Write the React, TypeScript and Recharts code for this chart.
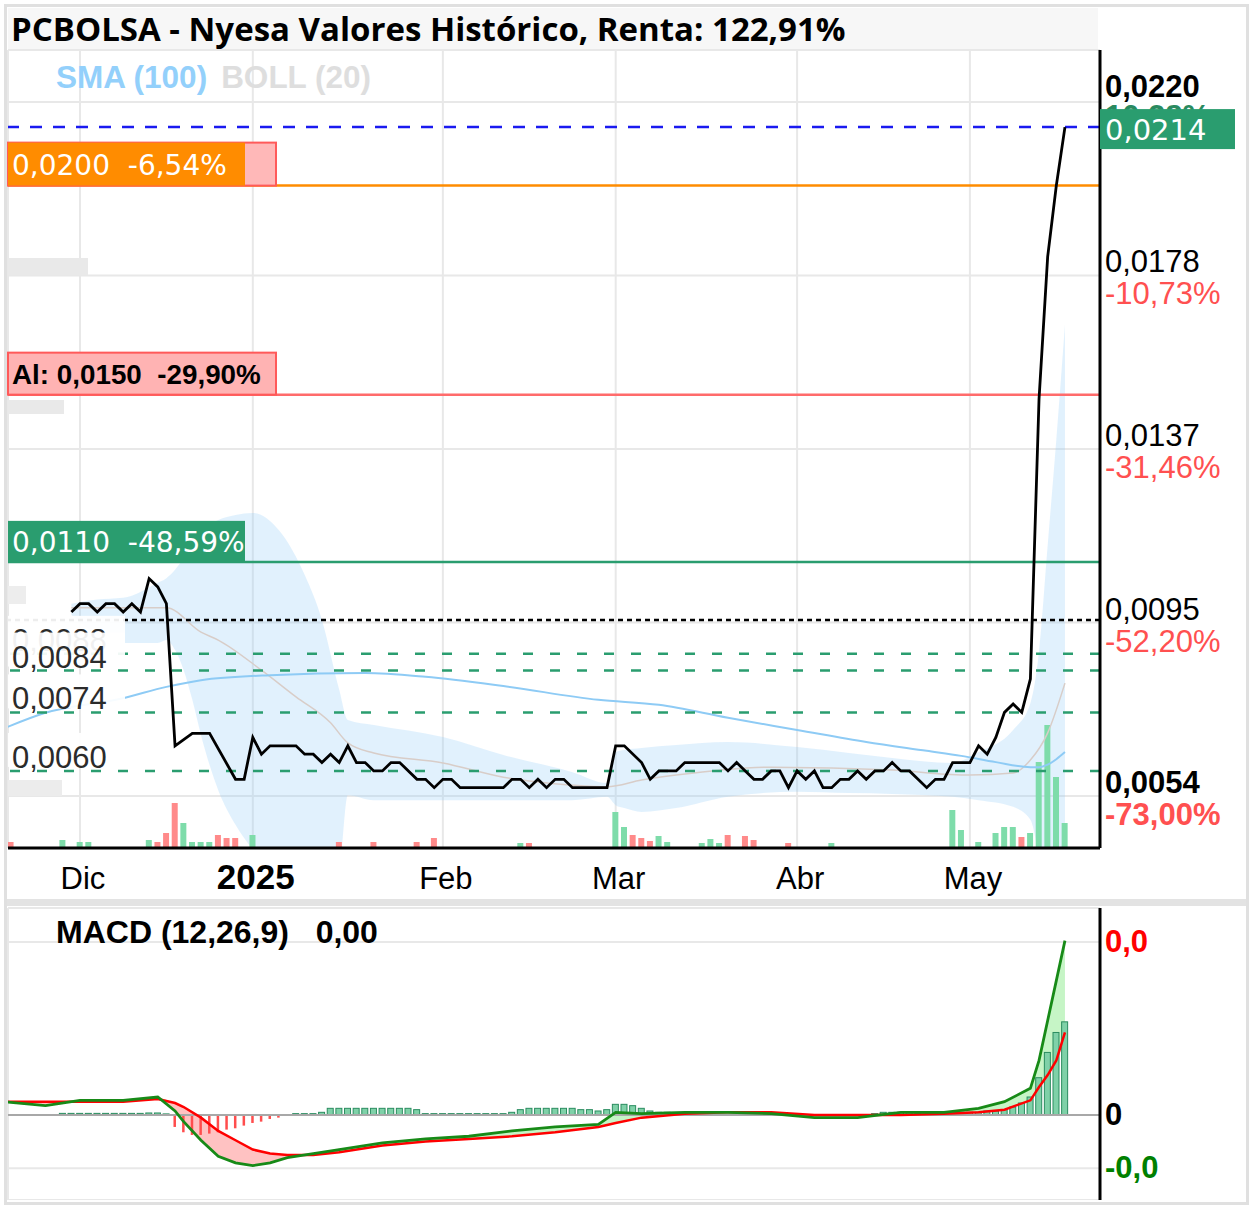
import React from "react";
import {
  ComposedChart, Line, Area, Bar, Cell, XAxis, YAxis, CartesianGrid, ReferenceLine,
} from "recharts";

// x = trading-day index (0 = first session of December 2024)
const monthDays = [0, 20, 42, 62, 83, 103];
const monthLabels = ["Dic", "2025", "Feb", "Mar", "Abr", "May"];

const priceTicks = [0.022, 0.01785, 0.0137, 0.00955, 0.0054];
const priceTickLabels = ["0,0220", "0,0178", "0,0137", "0,0095", "0,0054"];
const priceTickPct = ["10,28%", "-10,73%", "-31,46%", "-52,20%", "-73,00%"];

const macdTicks = [0.0013, 0, -0.0004];
const macdTickLabels = ["0,0", "0", "-0,0"];
const macdTickColors = ["#ff0000", "#000000", "#008000"];

// day, close
const price: [number, number][] = [
  [-1, 0.0098], [0, 0.01], [1, 0.01], [2, 0.0098], [3, 0.01], [4, 0.01], [5, 0.0098], [6, 0.01],
  [7, 0.0098], [8, 0.0106], [9, 0.0104], [10, 0.01], [11, 0.0066], [13, 0.0069], [15, 0.0069],
  [18, 0.0058], [19, 0.0058], [20, 0.0068], [21, 0.0064], [22, 0.0066], [25, 0.0066], [26, 0.0064],
  [27, 0.0064], [28, 0.0062], [29, 0.0064], [30, 0.0062], [31, 0.0066], [32, 0.0062], [33, 0.0062],
  [34, 0.006], [35, 0.006], [36, 0.0062], [37, 0.0062], [39, 0.0058], [40, 0.0058], [41, 0.0056],
  [42, 0.0058], [43, 0.0058], [44, 0.0056], [49, 0.0056], [50, 0.0058], [51, 0.0058], [52, 0.0056],
  [53, 0.0058], [54, 0.0056], [55, 0.0058], [56, 0.0058], [57, 0.0056], [61, 0.0056], [62, 0.0066],
  [63, 0.0066], [65, 0.0062], [66, 0.0058], [67, 0.006], [69, 0.006], [70, 0.0062], [74, 0.0062],
  [75, 0.006], [76, 0.0062], [77, 0.006], [78, 0.0058], [79, 0.0058], [80, 0.006], [81, 0.006],
  [82, 0.0056], [83, 0.006], [84, 0.0058], [85, 0.006], [86, 0.0056], [87, 0.0056], [88, 0.0058],
  [89, 0.0058], [90, 0.006], [91, 0.0058], [92, 0.006], [93, 0.006], [94, 0.0062], [95, 0.006],
  [96, 0.006], [98, 0.0056], [99, 0.0058], [100, 0.0058], [101, 0.0062], [103, 0.0062], [104, 0.0066],
  [105, 0.0064], [106, 0.0068], [107, 0.0074], [108, 0.0076], [109, 0.0074], [110, 0.0082],
  [111, 0.0149], [112, 0.0183], [113, 0.02], [114, 0.0214],
];

const sma100: [number, number][] = [
  [-9, 0.007], [-4, 0.00739], [5, 0.00774], [10, 0.00801], [14, 0.00817], [22, 0.00829],
  [33, 0.00834], [40, 0.00825], [49, 0.00803], [60, 0.0077], [67, 0.00758], [75, 0.00727],
  [83, 0.00698], [91, 0.00669], [98, 0.00648], [102, 0.00636], [106, 0.00621], [110, 0.00609],
  [111, 0.00609], [112, 0.00615], [113, 0.00628], [114, 0.00645],
];

const bollMid: [number, number][] = [
  [-1, 0.0099], [5, 0.0099], [10, 0.0099], [14, 0.00932], [16, 0.00913], [21, 0.00841],
  [25, 0.00777], [29, 0.00715], [31, 0.00667], [34, 0.00643], [42, 0.00619], [49, 0.00585],
  [57, 0.00566], [61, 0.00562], [65, 0.00578], [69, 0.0059], [80, 0.00609], [94, 0.00602],
  [103, 0.0059], [108, 0.00595], [110, 0.00626], [112, 0.00691], [114, 0.0081],
];

// day, lower, upper
const bollBand: [number, number, number][] = [
  [-1, 0.00973, 0.01], [2, 0.00925, 0.0101], [5, 0.00906, 0.01014], [9, 0.00906, 0.0105],
  [10, 0.00913, 0.01061], [11, 0.00889, 0.01081], [12, 0.00841, 0.01109], [13, 0.0077, 0.0114],
  [14, 0.00686, 0.01164], [15, 0.00614, 0.01188], [16, 0.00554, 0.012], [18, 0.00471, 0.01212],
  [20, 0.00411, 0.01217], [23, 0.00339, 0.01176], [26, 0.00303, 0.01069], [28, 0.00315, 0.00961],
  [30, 0.00363, 0.00794], [31, 0.00542, 0.00722], [34, 0.0053, 0.0071], [42, 0.0053, 0.00681],
  [49, 0.0053, 0.00638], [57, 0.0053, 0.00597], [61, 0.00538, 0.00571], [62, 0.00518, 0.00645],
  [63, 0.00511, 0.0065], [65, 0.00502, 0.00655], [69, 0.00511, 0.00662], [75, 0.00538, 0.00669],
  [83, 0.0055, 0.00657], [89, 0.00547, 0.00643], [94, 0.00545, 0.00631], [101, 0.00538, 0.00619],
  [104, 0.0053, 0.00645], [108, 0.00514, 0.00698], [110, 0.00483, 0.00762], [111, 0.00387, 0.00887],
  [112, 0.00219, 0.0114], [113, 0.00076, 0.01392], [114, -0.00092, 0.01667],
];

// day, volume, 1 = up day / 0 = down day
const volume: [number, number, number][] = [
  [-8, 6, 0], [-2, 8, 1], [0, 6, 1], [1, 6, 1], [8, 8, 1], [9, 6, 0], [10, 15, 0], [11, 45, 0],
  [12, 25, 1], [13, 6, 1], [14, 6, 1], [15, 6, 1], [16, 13, 0], [17, 10, 0], [18, 10, 0], [20, 13, 1],
  [30, 6, 0], [34, 6, 0], [39, 6, 0], [41, 10, 0], [51, 5, 1], [52, 5, 0], [62, 36, 1], [63, 21, 1],
  [64, 13, 0], [65, 10, 0], [66, 7, 0], [67, 12, 1], [68, 6, 1], [72, 5, 1], [73, 9, 1], [74, 5, 1],
  [75, 13, 0], [77, 12, 0], [78, 8, 0], [82, 5, 0], [87, 5, 1], [101, 38, 1], [102, 18, 1],
  [104, 6, 1], [106, 15, 1], [107, 21, 1], [108, 21, 1], [109, 11, 0], [110, 15, 1], [111, 86, 1],
  [112, 123, 1], [113, 71, 1], [114, 25, 1],
];

// day, macd, signal
const macd: [number, number, number][] = [
  [-9, 0.0001, 0.0001], [-4, 0.00007, 0.0001], [0, 0.00011, 0.0001], [5, 0.00011, 0.0001],
  [9, 0.000135, 0.00012], [11, 0.00003, 0.00009], [12, -0.00005, 0.00006], [14, -0.00019, -0.00002],
  [16, -0.00031, -0.00012], [18, -0.00036, -0.00019], [20, -0.00038, -0.00026], [22, -0.00036, -0.00029],
  [24, -0.00032, -0.0003], [27, -0.00029, -0.0003], [30, -0.00026, -0.00028], [35, -0.00021, -0.00023],
  [40, -0.00018, -0.0002], [45, -0.00016, -0.00018], [50, -0.00012, -0.00016], [55, -0.00009, -0.00013],
  [60, -0.00007, -0.00009], [62, 0.00002, -0.00006], [65, 0.00001, -0.00002], [70, 0.00002, 0.00001],
  [75, 0.00002, 0.00002], [80, 0.00001, 0.00002], [85, -0.00002, 0], [90, -0.00002, 0],
  [95, 0.00002, 0], [100, 0.00002, 0.00001], [104, 0.00005, 0.00002], [107, 0.0001, 0.00004],
  [110, 0.0002, 0.00011], [111, 0.00041, 0.00021], [112, 0.00071, 0.0003], [113, 0.00101, 0.00041],
  [114, 0.00131, 0.00062],
];

const hist: [number, number][] = [
  [-2, 0.000012], [-1, 0.000012], [0, 0.000012], [1, 0.000012], [2, 0.000012], [3, 0.000012],
  [4, 0.000012], [5, 0.000012], [6, 0.000012], [7, 0.000012], [8, 0.000015], [9, 0.000015], [10, 0.000008],
  [11, -0.00009], [12, -0.00013], [13, -0.00015], [14, -0.00015], [15, -0.00014], [16, -0.00013],
  [17, -0.00011], [18, -0.0001], [19, -0.00008], [20, -0.00006], [21, -0.00005], [22, -0.00003], [23, -0.00002],
  [25, 0.00001], [26, 0.00001], [27, 0.00001], [28, 0.00002], [29, 0.00005], [30, 0.00005], [31, 0.00005],
  [32, 0.00005], [33, 0.00005], [34, 0.00005], [35, 0.00005], [36, 0.00005], [37, 0.00005], [38, 0.00005],
  [39, 0.00004], [40, 0.00001], [41, 0.00001], [42, 0.00001], [43, 0.00001], [44, 0.00001], [45, 0.00001],
  [46, 0.00001], [47, 0.00001], [48, 0.00001], [49, 0.00001], [50, 0.00002], [51, 0.00004], [52, 0.00005],
  [53, 0.00005], [54, 0.00005], [55, 0.00005], [56, 0.00005], [57, 0.00005], [58, 0.00004], [59, 0.00004],
  [60, 0.00003], [61, 0.00004], [62, 0.00008], [63, 0.00008], [64, 0.00007], [65, 0.00005], [66, 0.00003],
  [67, 0.00002], [68, 0.00002], [69, 0.00001], [92, 0.00001], [93, 0.00002], [94, 0.00002], [95, 0.00002],
  [96, 0.00002], [97, 0.00001], [101, 0.00001], [102, 0.00002], [103, 0.00002], [104, 0.00002],
  [105, 0.00003], [106, 0.00003], [107, 0.00004], [108, 0.00006], [109, 0.00009], [110, 0.000135],
  [111, 0.00028], [112, 0.00047], [113, 0.00062], [114, 0.0007],
];

const lastPrice = 0.0214;
const lastPriceText = "0,0214";
const orangeLevel = 0.02;
const orangeText = "0,0200  -6,54%";
const alertLevel = 0.015;
const alertText = "Al: 0,0150  -29,90%";
const greenLevel = 0.011;
const greenText = "0,0110  -48,59%";
const prevClose = 0.00961;
const supports = [0.0088, 0.0084, 0.0074, 0.006];
const supportLabels = ["0,0088", "0,0084", "0,0074", "0,0060"];

const X_DOMAIN: [number, number] = [-8.333, 118.056];
const P_DOMAIN: [number, number] = [0.0041562, 0.0232438];
const MAIN_MARGIN = { top: 50, right: 0, bottom: 0, left: 8 };
const ARIAL = "'Liberation Sans', Arial, sans-serif";
const DEJAVU = "'DejaVu Sans', Verdana, sans-serif";
const TEAL = "#2a9d6f";

type Row = { d: number; [k: string]: any };
const at = (m: Map<number, Row>, d: number) => {
  if (!m.has(d)) m.set(d, { d });
  return m.get(d)!;
};

const mainMap = new Map<number, Row>();
price.forEach(([d, v]) => (at(mainMap, d).price = v));
sma100.forEach(([d, v]) => (at(mainMap, d).sma = v));
bollMid.forEach(([d, v]) => (at(mainMap, d).mid = v));
bollBand.forEach(([d, lo, hi]) => (at(mainMap, d).band = [lo, hi]));
volume.forEach(([d, v, up]) => {
  const r = at(mainMap, d);
  r.vol = v;
  r.up = up;
});
const mainRows = [...mainMap.values()].sort((a, b) => a.d - b.d);

const macdMap = new Map<number, Row>();
macd.forEach(([d, m, s]) => {
  const r = at(macdMap, d);
  r.m = m;
  r.s = s;
  r.redFill = [m, Math.max(m, s)];
  r.greenFill = [s, Math.max(m, s)];
});
hist.forEach(([d, h]) => (at(macdMap, d).h = h));
const macdRows = [...macdMap.values()].sort((a, b) => a.d - b.d);

const MonthTick = (p: any) => {
  const i = monthDays.indexOf(p.payload.value);
  const bold = monthLabels[i] === "2025";
  return (
    <text x={p.x + 3} y={p.y + 41} textAnchor="middle" fontFamily={ARIAL}
      fontSize={bold ? 35 : 31} fontWeight={bold ? 700 : 400} fill="#000">
      {monthLabels[i]}
    </text>
  );
};

const PriceTick = (p: any) => {
  const i = priceTicks.indexOf(p.payload.value);
  const bold = i === 0 || i === priceTicks.length - 1;
  return (
    <g fontFamily={ARIAL} fontSize={31} fontWeight={bold ? 700 : 400}>
      <text x={p.x} y={p.y - (i === 0 ? 5 : 3)} fill="#000">{priceTickLabels[i]}</text>
      <text x={p.x} y={p.y + (i === 0 ? 25 : 29)} fill={i === 0 ? "#2a8a60" : "#ff5050"}>{priceTickPct[i]}</text>
    </g>
  );
};

const MacdTick = (p: any) => {
  const i = macdTicks.indexOf(p.payload.value);
  return (
    <text x={p.x} y={p.y + 10} fontFamily={ARIAL} fontSize={31} fontWeight={700} fill={macdTickColors[i]}>
      {macdTickLabels[i]}
    </text>
  );
};

const OrangeBox = (p: any) => {
  const { x, y } = p.viewBox;
  return (
    <g>
      <rect x={x} y={y - 43} width={268} height={43} fill="#ffb8b8" stroke="#ff5a5a" strokeWidth={2} />
      <rect x={x} y={y - 43} width={237} height={43} fill="#ff8c00" />
      <text x={x + 4} y={y - 11} fill="#fff" fontFamily={DEJAVU} fontSize={28} style={{ whiteSpace: "pre" }}>{orangeText}</text>
    </g>
  );
};

const AlertBox = (p: any) => {
  const { x, y } = p.viewBox;
  return (
    <g>
      <rect x={x} y={y - 42} width={268} height={42} fill="#ffb3b3" stroke="#ff5a5a" strokeWidth={2} />
      <text x={x + 4} y={y - 11} fill="#000" fontFamily={ARIAL} fontWeight={700} fontSize={27.8} style={{ whiteSpace: "pre" }}>{alertText}</text>
    </g>
  );
};

const GreenBox = (p: any) => {
  const { x, y } = p.viewBox;
  return (
    <g>
      <rect x={x} y={y - 41} width={237} height={41} fill={TEAL} />
      <text x={x + 4} y={y - 10} fill="#fff" fontFamily={DEJAVU} fontSize={28} style={{ whiteSpace: "pre" }}>{greenText}</text>
    </g>
  );
};

const LastBox = (p: any) => {
  const { x, y, width } = p.viewBox;
  const bx = x + width;
  return (
    <g>
      <rect x={bx} y={y - 18} width={135} height={40} fill={TEAL} />
      <text x={bx + 5} y={y + 13} fill="#fff" fontFamily={DEJAVU} fontSize={29}>{lastPriceText}</text>
    </g>
  );
};

const SupportLabel = (p: any) => {
  const { x, y } = p.viewBox;
  return (
    <g>
      <rect x={x} y={y - 38} width={117} height={34} fill="#fff" fillOpacity={0.93} />
      <text x={x + 4} y={y - 3} fill="#2b2b2b" fontFamily={ARIAL} fontSize={31}>{p.text}</text>
    </g>
  );
};

const HistShape = (p: any) => {
  if (p.payload.h == null) return null;
  const neg = p.payload.h < 0;
  const w = neg ? 2.5 : p.width;
  const y = Math.min(p.y, p.y + p.height);
  const h = Math.max(Math.abs(p.height), 1.5);
  return (
    <rect x={p.x + (p.width - w) / 2} y={y} width={w} height={h}
      fill={neg ? "#ff4d4d" : "#7fd1a8"} stroke={neg ? "none" : "#2a8c5f"} strokeWidth={1} />
  );
};

export default function App() {
  return (
    <div style={{ position: "relative", width: 1253, height: 1208, background: "#fff", overflow: "hidden" }}>
      <style>{"body{margin:0}"}</style>

      <div style={{ position: "absolute", left: 8, top: 8, width: 1090, height: 42, background: "#f7f7f7" }} />
      <div style={{
        position: "absolute", left: 11, top: 8, height: 42, lineHeight: "42px",
        fontFamily: "'Open Sans', sans-serif", fontWeight: 700, fontSize: 33, color: "#000", whiteSpace: "nowrap",
      }}>
        PCBOLSA - Nyesa Valores Histórico, Renta: 122,91%
      </div>

      {/* price panel */}
      <div style={{ position: "absolute", left: 0, top: 0 }}>
        <ComposedChart width={1253} height={900} data={mainRows} margin={MAIN_MARGIN}>
          <CartesianGrid yAxisId="p" stroke="#e8e8e8" strokeWidth={2} />
          <XAxis type="number" dataKey="d" domain={X_DOMAIN} allowDataOverflow ticks={monthDays} interval={0}
            height={52} tick={<MonthTick />} tickSize={0} tickMargin={0} tickLine={false}
            axisLine={{ stroke: "#000", strokeWidth: 3 }} />
          <YAxis yAxisId="p" orientation="right" domain={P_DOMAIN} allowDataOverflow
            ticks={priceTicks} interval={0} width={153} tick={<PriceTick />} tickSize={0} tickMargin={5}
            tickLine={false} axisLine={{ stroke: "#000", strokeWidth: 3 }} />
          <YAxis yAxisId="v" hide domain={[0, 798]} />

          <Area yAxisId="p" dataKey="band" type="monotone" stroke="none" fill="#90caf9" fillOpacity={0.27}
            connectNulls isAnimationActive={false} />
          <Bar yAxisId="v" dataKey="vol" barSize={6} isAnimationActive={false}>
            {mainRows.map((r) => (
              <Cell key={r.d} fill={r.up ? "#7edcaa" : "#ff8a8a"} />
            ))}
          </Bar>
          <Line yAxisId="p" dataKey="mid" type="monotone" stroke="#d8cdc8" strokeWidth={1.5} dot={false}
            connectNulls isAnimationActive={false} />
          <Line yAxisId="p" dataKey="sma" type="monotone" stroke="#8ecbf5" strokeWidth={2} dot={false}
            connectNulls isAnimationActive={false} />

          <ReferenceLine yAxisId="p" y={lastPrice} stroke="#1a1af0" strokeWidth={2.5} strokeDasharray="12 11" />
          <ReferenceLine yAxisId="p" y={orangeLevel} stroke="#ff8c00" strokeWidth={2.5} />
          <ReferenceLine yAxisId="p" y={alertLevel} stroke="#ff6b6b" strokeWidth={2.5} />
          <ReferenceLine yAxisId="p" y={greenLevel} stroke={TEAL} strokeWidth={2.5} />
          <ReferenceLine yAxisId="p" y={prevClose} stroke="#000" strokeWidth={2.5} strokeDasharray="5 4" />
          {supports.map((v) => (
            <ReferenceLine key={"s" + v} yAxisId="p" y={v} stroke={TEAL} strokeWidth={2.5} strokeDasharray="10 17" />
          ))}

          <Line yAxisId="p" dataKey="price" type="linear" stroke="#000" strokeWidth={2.8} dot={false}
            connectNulls isAnimationActive={false} />
        </ComposedChart>
      </div>

      {/* level labels, on the same price scale, drawn above the series */}
      <div style={{ position: "absolute", left: 0, top: 0, pointerEvents: "none" }}>
        <ComposedChart width={1253} height={900} data={mainRows} margin={MAIN_MARGIN}>
          <XAxis type="number" dataKey="d" domain={X_DOMAIN} allowDataOverflow height={52}
            tick={false} tickLine={false} axisLine={false} />
          <YAxis yAxisId="p" orientation="right" domain={P_DOMAIN} allowDataOverflow width={153}
            tick={false} tickLine={false} axisLine={false} />
          <ReferenceLine yAxisId="p" y={lastPrice} stroke="none" label={<LastBox />} />
          <ReferenceLine yAxisId="p" y={orangeLevel} stroke="none" label={<OrangeBox />} />
          <ReferenceLine yAxisId="p" y={alertLevel} stroke="none" label={<AlertBox />} />
          <ReferenceLine yAxisId="p" y={greenLevel} stroke="none" label={<GreenBox />} />
          {supports.map((v, i) => (
            <ReferenceLine key={"l" + v} yAxisId="p" y={v} stroke="none"
              label={<SupportLabel text={supportLabels[i]} />} />
          ))}
        </ComposedChart>
      </div>

      <div style={{ position: "absolute", left: 56, top: 61, lineHeight: "32px", fontFamily: ARIAL, fontWeight: 700, fontSize: 31.5, whiteSpace: "pre" }}>
        <span style={{ color: "#93d0fb" }}>SMA (100)</span>
        <span style={{ color: "#dedede", marginLeft: 14 }}>BOLL (20)</span>
      </div>

      <div style={{ position: "absolute", left: 8, top: 258, width: 80, height: 17, background: "#e9e9e9" }} />
      <div style={{ position: "absolute", left: 8, top: 400, width: 56, height: 14, background: "#e9e9e9" }} />
      <div style={{ position: "absolute", left: 8, top: 586, width: 18, height: 18, background: "#ededed" }} />
      <div style={{ position: "absolute", left: 8, top: 780, width: 54, height: 16, background: "#ececec" }} />

      <div style={{ position: "absolute", left: 4, top: 899, width: 1245, height: 7, background: "#e3e3e3" }} />

      {/* MACD panel */}
      <div style={{ position: "absolute", left: 0, top: 900 }}>
        <ComposedChart width={1253} height={300} data={macdRows} margin={{ top: 8, right: 0, bottom: 0, left: 8 }}>
          <CartesianGrid stroke="#e8e8e8" strokeWidth={2} />
          <XAxis type="number" dataKey="d" domain={X_DOMAIN} allowDataOverflow ticks={monthDays} interval={0}
            height={0} tick={false} tickLine={false} axisLine={false} />
          <YAxis orientation="right" domain={[-0.000639, 0.0015555]} allowDataOverflow ticks={macdTicks}
            interval={0} width={153} tick={<MacdTick />} tickSize={0} tickMargin={5} tickLine={false}
            axisLine={{ stroke: "#000", strokeWidth: 3 }} />
          <Area dataKey="redFill" type="linear" stroke="none" fill="#ffc2c2" fillOpacity={1}
            connectNulls isAnimationActive={false} />
          <Area dataKey="greenFill" type="linear" stroke="none" fill="#c6f5c6" fillOpacity={1}
            connectNulls isAnimationActive={false} />
          <ReferenceLine y={0} stroke="#a8a8a8" strokeWidth={2} />
          <Bar dataKey="h" barSize={6} shape={<HistShape />} isAnimationActive={false} />
          <Line dataKey="s" type="linear" stroke="#ff0000" strokeWidth={2.5} dot={false}
            connectNulls isAnimationActive={false} />
          <Line dataKey="m" type="linear" stroke="#178a17" strokeWidth={2.8} dot={false}
            connectNulls isAnimationActive={false} />
        </ComposedChart>
      </div>

      <div style={{ position: "absolute", left: 56, top: 916, lineHeight: "32px", fontFamily: ARIAL, fontWeight: 700, fontSize: 32, whiteSpace: "pre" }}>
        MACD (12,26,9)   0,00
      </div>

      <div style={{
        position: "absolute", left: 4, top: 4, width: 1245, height: 1201, boxSizing: "border-box",
        border: "3px solid #e0e0e0", pointerEvents: "none",
      }} />
    </div>
  );
}
